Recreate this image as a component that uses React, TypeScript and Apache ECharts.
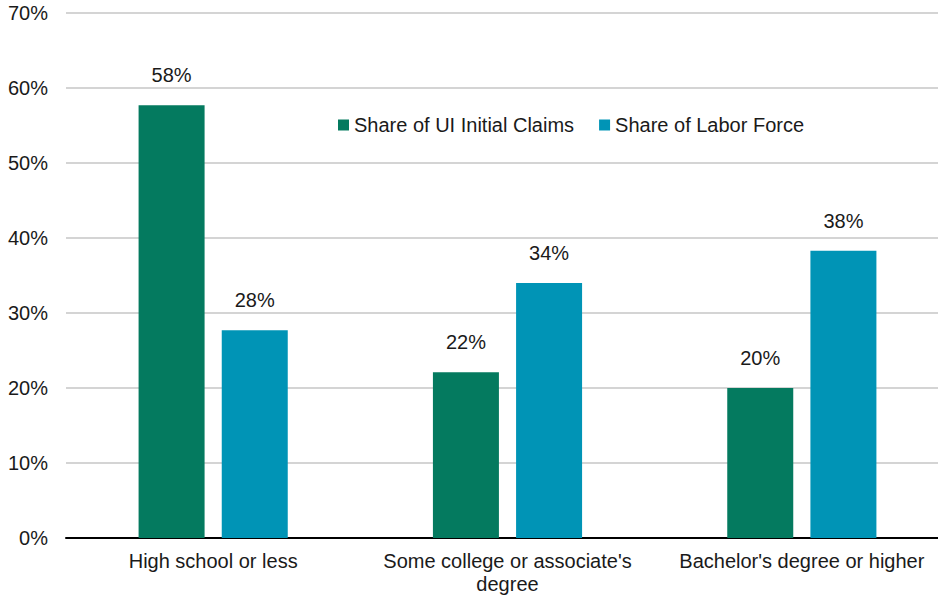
import React, { useEffect, useRef } from "react";
import * as echarts from "echarts";

const categories = ["High school or less", "Some college or associate's\ndegree", "Bachelor's degree or higher"];
const uiClaims = [57.7, 22.1, 20.0];
const laborForce = [27.7, 34.0, 38.3];
const claimsLabels = ["58%", "22%", "20%"];
const laborLabels = ["28%", "34%", "38%"];

export default function App() {
  const ref = useRef<HTMLDivElement>(null);
  useEffect(() => {
    const chart = echarts.init(ref.current!, null, { renderer: "svg" });
    const font = "'Liberation Sans', Arial, sans-serif";
    chart.setOption({
      animation: false,
      textStyle: { fontFamily: font },
      grid: { left: 66, width: 883, top: 13, bottom: 58, containLabel: false, outerBoundsMode: "none" },
      legend: {
        left: 333,
        top: 110,
        itemWidth: 11,
        itemHeight: 11,
        itemGap: 25,
        icon: "rect",
        textStyle: { fontSize: 20, color: "#1a1a1a", fontFamily: font },
        data: ["Share of UI Initial Claims", "Share of Labor Force"],
      },
      xAxis: {
        type: "category",
        data: categories,
        axisLine: { lineStyle: { color: "#000", width: 2 } },
        axisTick: { show: false },
        axisLabel: { interval: 0, fontSize: 20, color: "#1a1a1a", margin: 11, lineHeight: 23, fontFamily: font },
      },
      yAxis: {
        type: "value",
        min: 0,
        max: 70,
        interval: 10,
        axisLabel: { formatter: "{value}%", fontSize: 20, color: "#1a1a1a", margin: 18, fontFamily: font },
        axisLine: { show: false },
        axisTick: { show: false },
        splitLine: { lineStyle: { color: "#c6c6c6", width: 1.5 } },
      },
      series: [
        {
          name: "Share of UI Initial Claims",
          type: "bar",
          data: uiClaims,
          barWidth: 66,
          barGap: "26%",
          itemStyle: { color: "#047a5f" },
          label: {
            show: true,
            position: "top",
            distance: 20,
            fontSize: 20,
            color: "#1a1a1a",
            fontFamily: font,
            formatter: (p: any) => claimsLabels[p.dataIndex],
          },
        },
        {
          name: "Share of Labor Force",
          type: "bar",
          data: laborForce,
          barWidth: 66,
          barGap: "26%",
          itemStyle: { color: "#0094b6" },
          label: {
            show: true,
            position: "top",
            distance: 20,
            fontSize: 20,
            color: "#1a1a1a",
            fontFamily: font,
            formatter: (p: any) => laborLabels[p.dataIndex],
          },
        },
      ],
    });
    return () => chart.dispose();
  }, []);
  return <div ref={ref} style={{ position: "fixed", left: 0, top: 0, width: 938, height: 596, background: "#fff", overflow: "hidden" }} />;
}
